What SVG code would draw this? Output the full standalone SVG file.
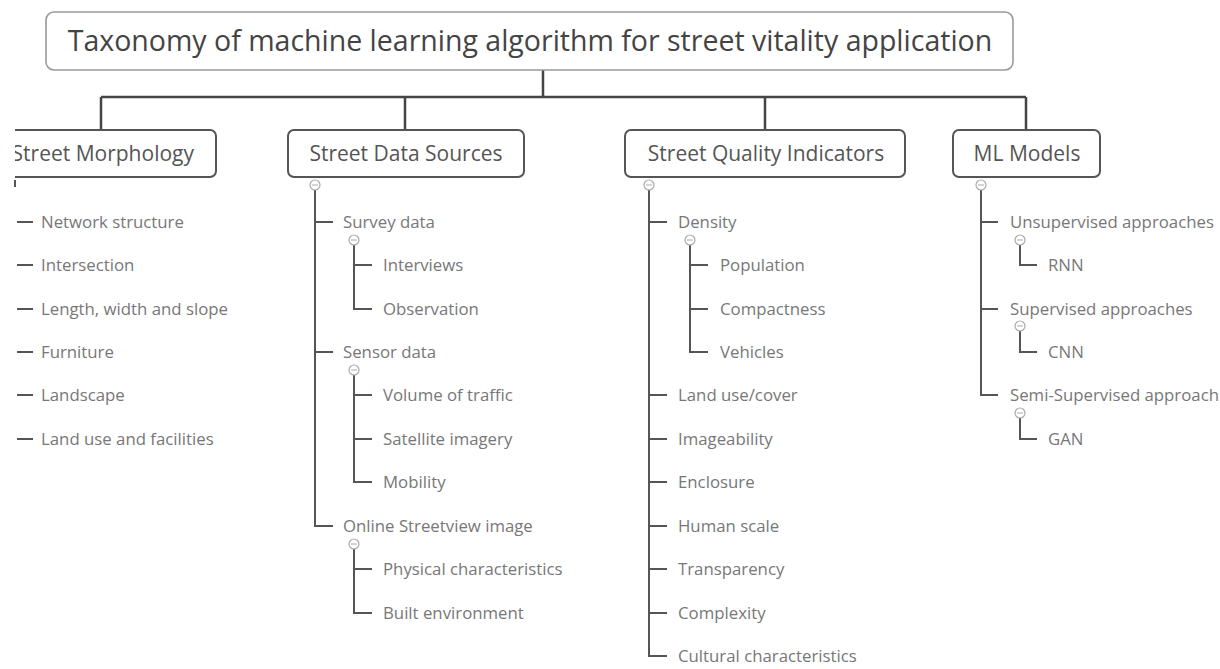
<svg xmlns="http://www.w3.org/2000/svg" width="1220" height="669" viewBox="0 0 1220 669">
<style>
.bg{fill:#fff}
.title{fill:#fff;stroke:#999;stroke-width:1.6}
.box{fill:#fff;stroke:#555;stroke-width:2}
.tt{font-family:"Open Sans","Liberation Sans",sans-serif;font-size:28.5px;fill:#444}
.bt{font-family:"Open Sans","Liberation Sans",sans-serif;font-size:21px;fill:#555;text-anchor:middle}
.it{font-family:"Open Sans","Liberation Sans",sans-serif;font-size:16.8px;fill:#777}
.bus{fill:none;stroke:#444;stroke-width:2.5}
.ln{fill:none;stroke:#555;stroke-width:2}
.cc{fill:#fff;stroke:#aaa;stroke-width:1.2}
.cm{stroke:#aaa;stroke-width:1}
</style>
<defs>
<clipPath id="cropL"><rect x="15" y="0" width="1205" height="669"/></clipPath>
</defs>
<rect class="bg" x="0" y="0" width="1220" height="669"/>
<g id="connectors">
<path class="bus" d="M543 70V97M101 97H1026M101 97V130M405 97V130M765 97V130M1026 97V130"/>
<path class="ln" d="M17 222H33M17 265H33M17 309H33M17 352H33M17 395H33M17 439H33M15 180V187"/>
<path class="ln" d="M315 190V526H333M315 222H333M315 352H333M354 245V309H372M354 265H372M354 375V482H372M354 395H372M354 439H372M354 549V613H372M354 569H372"/>
<path class="ln" d="M649 190V656H667M649 222H667M649 395H667M649 439H667M649 482H667M649 526H667M649 569H667M649 613H667M690 245V352H708M690 265H708M690 309H708"/>
<path class="ln" d="M981 190V395H998M981 222H998M981 309H998M1020 245V265H1037M1020 331V352H1037M1020 418V439H1037"/>
</g>
<g id="collapsers">
<circle class="cc" cx="315" cy="185" r="5"/><path class="cm" d="M312 185H318"/>
<circle class="cc" cx="649" cy="185" r="5"/><path class="cm" d="M646 185H652"/>
<circle class="cc" cx="981" cy="185" r="5"/><path class="cm" d="M978 185H984"/>
<circle class="cc" cx="354" cy="240" r="5"/><path class="cm" d="M351 240H357"/>
<circle class="cc" cx="354" cy="370" r="5"/><path class="cm" d="M351 370H357"/>
<circle class="cc" cx="354" cy="544" r="5"/><path class="cm" d="M351 544H357"/>
<circle class="cc" cx="690" cy="240" r="5"/><path class="cm" d="M687 240H693"/>
<circle class="cc" cx="1020" cy="240" r="5"/><path class="cm" d="M1017 240H1023"/>
<circle class="cc" cx="1020" cy="326" r="5"/><path class="cm" d="M1017 326H1023"/>
<circle class="cc" cx="1020" cy="413" r="5"/><path class="cm" d="M1017 413H1023"/>
</g>
<g id="root">
<rect class="title" x="46" y="12" width="967" height="58" rx="8"/>
<text class="tt" x="530" y="51" text-anchor="middle">Taxonomy of machine learning algorithm for street vitality application</text>
</g>
<g id="street-morphology" clip-path="url(#cropL)">
<rect class="box" x="-14" y="130" width="230" height="47" rx="6"/>
<text class="bt" x="194" y="161" style="text-anchor:end">Street Morphology</text>
<text class="it" x="41" y="228">Network structure</text>
<text class="it" x="41" y="271">Intersection</text>
<text class="it" x="41" y="315">Length, width and slope</text>
<text class="it" x="41" y="358">Furniture</text>
<text class="it" x="41" y="401">Landscape</text>
<text class="it" x="41" y="445">Land use and facilities</text>
</g>
<g id="street-data-sources">
<rect class="box" x="288" y="130" width="236" height="47" rx="6"/>
<text class="bt" x="406" y="161">Street Data Sources</text>
<text class="it" x="343" y="228">Survey data</text>
<text class="it" x="383" y="271">Interviews</text>
<text class="it" x="383" y="315">Observation</text>
<text class="it" x="343" y="358">Sensor data</text>
<text class="it" x="383" y="401">Volume of traffic</text>
<text class="it" x="383" y="445">Satellite imagery</text>
<text class="it" x="383" y="488">Mobility</text>
<text class="it" x="343" y="532">Online Streetview image</text>
<text class="it" x="383" y="575">Physical characteristics</text>
<text class="it" x="383" y="619">Built environment</text>
</g>
<g id="street-quality-indicators">
<rect class="box" x="625" y="130" width="280" height="47" rx="6"/>
<text class="bt" x="766" y="161">Street Quality Indicators</text>
<text class="it" x="678" y="228">Density</text>
<text class="it" x="720" y="271">Population</text>
<text class="it" x="720" y="315">Compactness</text>
<text class="it" x="720" y="358">Vehicles</text>
<text class="it" x="678" y="401">Land use/cover</text>
<text class="it" x="678" y="445">Imageability</text>
<text class="it" x="678" y="488">Enclosure</text>
<text class="it" x="678" y="532">Human scale</text>
<text class="it" x="678" y="575">Transparency</text>
<text class="it" x="678" y="619">Complexity</text>
<text class="it" x="678" y="662">Cultural characteristics</text>
</g>
<g id="ml-models">
<rect class="box" x="953" y="130" width="147" height="47" rx="6"/>
<text class="bt" x="1027" y="161">ML Models</text>
<text class="it" x="1010" y="228">Unsupervised approaches</text>
<text class="it" x="1048" y="271">RNN</text>
<text class="it" x="1010" y="315">Supervised approaches</text>
<text class="it" x="1048" y="358">CNN</text>
<text class="it" x="1010" y="401">Semi-Supervised approach</text>
<text class="it" x="1048" y="445">GAN</text>
</g>
</svg>
